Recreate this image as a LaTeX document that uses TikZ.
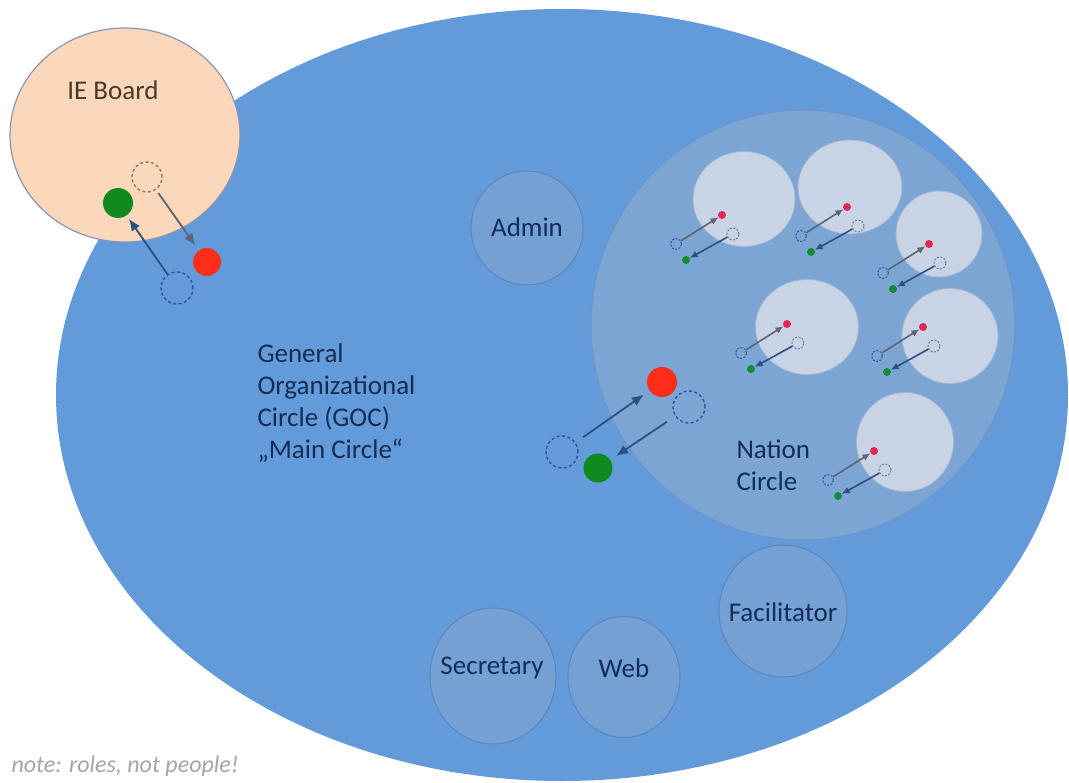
\documentclass[tikz,border=0pt]{standalone}
\usepackage{fontspec}
\setmainfont{Carlito}
\usetikzlibrary{shapes.geometric,arrows.meta}
\definecolor{gocfill}{RGB}{99,155,218}
\definecolor{nationfill}{RGB}{124,165,212}
\definecolor{nationline}{RGB}{108,150,203}
\definecolor{rolefill}{RGB}{116,160,211}
\definecolor{roleline}{RGB}{92,134,190}
\definecolor{subfill}{RGB}{200,212,230}
\definecolor{subline}{RGB}{165,182,210}
\definecolor{iefill}{RGB}{251,215,187}
\definecolor{ieline}{RGB}{140,150,180}
\definecolor{navytext}{RGB}{20,45,85}
\definecolor{browntext}{RGB}{75,58,42}
\definecolor{notegrey}{RGB}{165,165,165}
\definecolor{dotred}{RGB}{255,45,25}
\definecolor{dotgreen}{RGB}{16,138,30}
\definecolor{minired}{RGB}{225,40,80}
\definecolor{minigreen}{RGB}{20,140,50}
\definecolor{arrowblue}{RGB}{45,80,130}
\definecolor{arrowgrey}{RGB}{95,100,115}
\definecolor{dashblue}{RGB}{45,85,150}
\definecolor{dashbrown}{RGB}{150,115,95}
\definecolor{dashgrey}{RGB}{120,125,140}
\newcommand\minipat[3]{%
  \begin{scope}[shift={(#2,#3)}]
    \node[dot=8pt, fill=minired] (#1R) at (0,0) {};
    \node[dot=11pt, draw=dashblue, minidash] (#1A) at (-46,29) {};
    \node[dot=12pt, draw=dashgrey, minidash] (#1B) at (11,19) {};
    \node[dot=8pt, fill=minigreen] (#1G) at (-36,45) {};
    \draw[miniarrow, draw=arrowgrey] (#1A) -- (#1R);
    \draw[miniarrow, draw=arrowblue] (#1B) -- (#1G);
  \end{scope}}
\begin{document}
\begin{tikzpicture}[x=1pt,y=-1pt,
  lbl/.style={text=navytext, font=\fontsize{27}{32}\selectfont},
  role/.style={ellipse, fill=rolefill, draw=roleline, line width=1pt, inner sep=0pt},
  sub/.style={ellipse, fill=subfill, draw=subline, line width=0.8pt, inner sep=0pt},
  dot/.style={circle, inner sep=0pt, minimum size=#1},
  bigdash/.style={dash pattern=on 3pt off 2.5pt, line width=1.4pt},
  minidash/.style={dash pattern=on 2pt off 1.5pt, line width=1pt},
  bigarrow/.style={-{Latex[length=12pt,width=10pt]}, line width=1.8pt, draw=arrowblue},
  miniarrow/.style={-{Latex[length=8pt,width=7pt]}, line width=1.6pt}
]
\useasboundingbox (0,0) rectangle (1069,783);
\fill[white] (0,0) rectangle (1069,783);

% main circle
\node[ellipse, fill=gocfill, inner sep=0pt, minimum width=1012pt, minimum height=772pt] (goc) at (562,395) {};

% IE board
\node[ellipse, fill=iefill, draw=ieline, line width=1.2pt, inner sep=0pt, minimum width=230pt, minimum height=214pt] (ie) at (125,135) {};
\node[text=browntext, font=\fontsize{27}{32}\selectfont] (ielabel) at (113,90) {IE Board};
\node[dot=30pt, fill=dotgreen] (ieG) at (118,203) {};
\node[dot=30pt, draw=dashbrown, bigdash] (ieD) at (147,177) {};
\node[dot=28pt, fill=dotred] (ieR) at (207,262) {};
\node[dot=32pt, draw=dashblue, bigdash] (ieB) at (177,288) {};
\draw[bigarrow, draw=arrowgrey, shorten <=4pt, shorten >=6pt] (ieD) -- (ieR);
\draw[bigarrow, shorten >=4pt] (ieB) -- (ieG);

% GOC label
\node[lbl, align=left, anchor=west] (goclabel) at (254,403) {General\\Organizational\\Circle (GOC)\\„Main Circle“};

% role circles
\node[role, minimum width=112pt, minimum height=114pt] (admin) at (527,228) {};
\node[lbl] (adminlabel) at (527,227) {Admin};
\node[role, minimum width=126pt, minimum height=136pt] (secretary) at (493,676) {};
\node[lbl] (secretarylabel) at (492,668) {Secretary};
\node[role, minimum width=112pt, minimum height=121pt] (web) at (624,677) {};
\node[lbl] (weblabel) at (624,668) {Web};
\node[role, minimum width=128pt, minimum height=132pt] (facilitator) at (783,611) {};
\node[lbl] (facilitatorlabel) at (783,612) {Facilitator};

% nation circle
\node[ellipse, fill=nationfill, draw=nationline, line width=1.2pt, inner sep=0pt, minimum width=424pt, minimum height=430pt] (nation) at (803,325) {};
\node[lbl, align=left, anchor=west] (nationlabel) at (733,465) {Nation\\Circle};

% sub circles
\node[sub, minimum width=102pt, minimum height=95pt] (s1) at (744,199) {};
\node[sub, minimum width=104pt, minimum height=94pt] (s2) at (850,187) {};
\node[sub, minimum width=86pt, minimum height=86pt] (s3) at (939,234) {};
\node[sub, minimum width=103pt, minimum height=95pt] (s4) at (807,327) {};
\node[sub, minimum width=96pt, minimum height=95pt] (s5) at (950,336) {};
\node[sub, minimum width=97pt, minimum height=99pt] (s6) at (905,442) {};

\minipat{pa}{722}{215}
\minipat{pb}{847}{207}
\minipat{pc}{929}{244}
\minipat{pd}{787}{324}
\minipat{pe}{923}{327}
\minipat{pf}{874}{451}

% central link
\node[dot=30pt, fill=dotred] (cR) at (662,382) {};
\node[dot=32pt, draw=dashblue, bigdash] (cB) at (689,407) {};
\node[dot=29pt, fill=dotgreen] (cG) at (598,468) {};
\node[dot=32pt, draw=dashblue, bigdash] (cA) at (562,452) {};
\draw[bigarrow, shorten <=9pt, shorten >=7pt] (cA) -- (cR);
\draw[bigarrow, shorten <=10pt, shorten >=7pt] (cB) -- (cG);

% note
\node[text=notegrey, anchor=west, font=\fontsize{24}{29}\selectfont\itshape] (note) at (8,766) {note: roles, not people!};
\end{tikzpicture}
\end{document}
